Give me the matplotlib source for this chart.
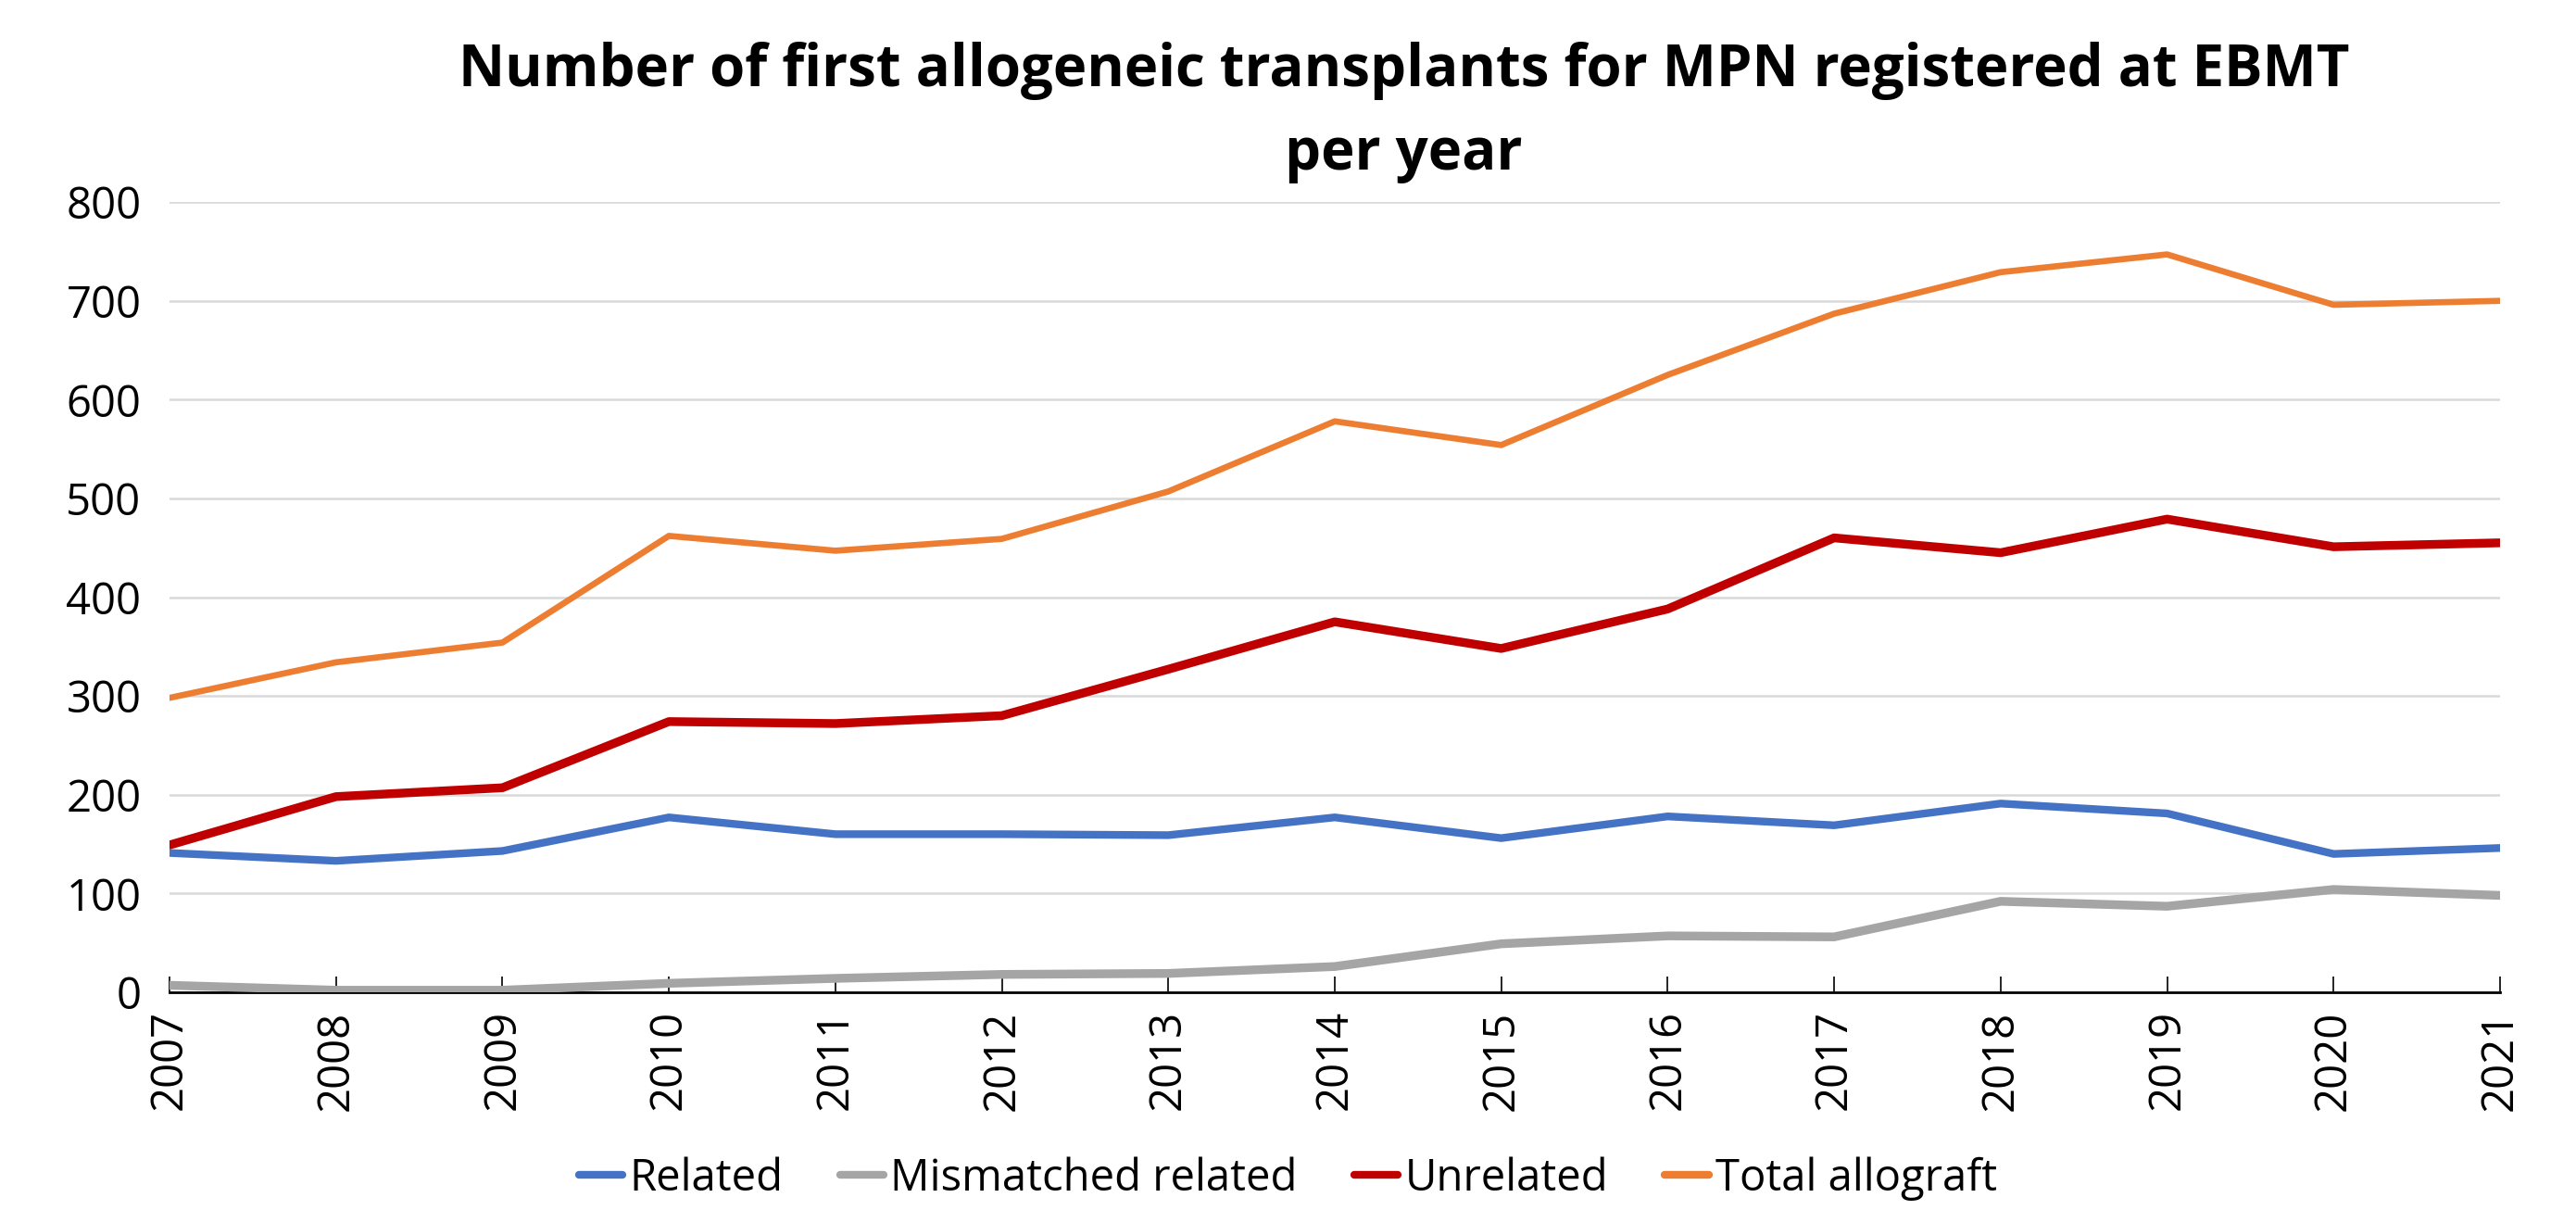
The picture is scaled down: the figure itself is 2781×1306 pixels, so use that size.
import matplotlib
matplotlib.use("Agg")
import matplotlib.pyplot as plt

years = [2007, 2008, 2009, 2010, 2011, 2012, 2013, 2014, 2015, 2016, 2017, 2018, 2019, 2020, 2021]
related = [141, 133, 143, 177, 160, 160, 159, 177, 156, 178, 169, 191, 181, 140, 146]
mismatched = [7, 2, 2, 9, 14, 18, 19, 26, 49, 57, 56, 92, 87, 104, 98]
unrelated = [149, 198, 207, 274, 272, 280, 327, 375, 348, 388, 460, 445, 479, 451, 455]
total = [298, 334, 354, 462, 447, 459, 507, 578, 554, 625, 687, 729, 747, 696, 700]
series_names = ["Related", "Mismatched related", "Unrelated", "Total allograft"]
yticks = [0, 100, 200, 300, 400, 500, 600, 700, 800]

plt.rcParams['font.family'] = ['Open Sans', 'DejaVu Sans']

fig = plt.figure(figsize=(27.81, 13.06), dpi=100)
ax = fig.add_axes([0.0658, 0.180, 0.9047, 0.653])

ax.plot(years, related, color='#4472C4', lw=6.0, label=series_names[0], solid_capstyle='round', zorder=3)
ax.plot(years, mismatched, color='#A5A5A5', lw=6.8, label=series_names[1], solid_capstyle='round', zorder=3)
ax.plot(years, unrelated, color='#C00000', lw=6.8, label=series_names[2], solid_capstyle='round', zorder=3)
ax.plot(years, total, color='#ED7D31', lw=4.8, label=series_names[3], solid_capstyle='round', zorder=3)

ax.set_xlim(years[0], years[-1])
ax.set_ylim(0, 800)
ax.set_yticks(yticks)
ax.set_xticks(years)
ax.set_xticklabels([str(y) for y in years], rotation=90)
ax.yaxis.grid(True, color='#D9D9D9', lw=1.8)
ax.set_axisbelow(True)
for s in ['top', 'right', 'left']:
    ax.spines[s].set_visible(False)
ax.spines['bottom'].set_color('#000000')
ax.spines['bottom'].set_linewidth(2.0)
ax.spines['bottom'].set_zorder(2)
ax.tick_params(axis='y', length=0, labelsize=34, pad=22)
ax.tick_params(axis='x', direction='in', length=12, width=1.2, labelsize=34, pad=14)

fig.text(0.545, 0.907, "Number of first allogeneic transplants for MPN registered at EBMT\nper year",
         ha='center', va='center', fontsize=44.5, fontweight='bold', linespacing=1.58)

leg = fig.legend(loc='center', bbox_to_anchor=(0.5, 0.026), ncol=4, frameon=False,
                 fontsize=34, handlelength=1.0, handletextpad=0.15, columnspacing=1.3)
for h in leg.get_lines():
    h.set_linewidth(6)

fig.savefig("out.png", dpi=100)
